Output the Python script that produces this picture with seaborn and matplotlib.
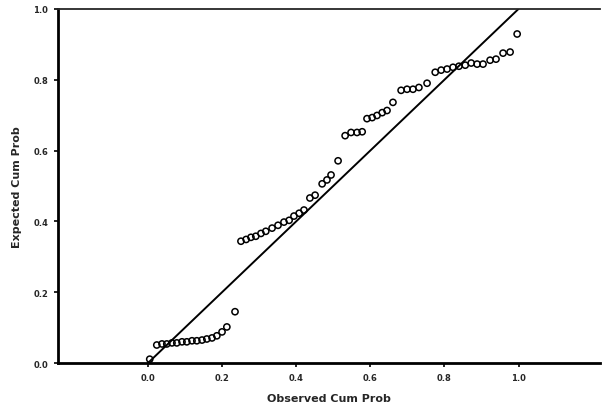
"""
P-P plot: observed vs expected cumulative probability
"""
import matplotlib
matplotlib.use("Agg")
import matplotlib.pyplot as plt
import seaborn as sns
import pandas as pd

# values
observed = [0.005, 0.024, 0.038, 0.051, 0.065, 0.078, 0.092, 0.105, 0.119, 0.132,
            0.146, 0.159, 0.173, 0.186, 0.200, 0.213, 0.235,
            0.251, 0.265, 0.278, 0.291, 0.305, 0.318, 0.335, 0.351, 0.367, 0.381,
            0.394, 0.408, 0.421, 0.437, 0.451, 0.470, 0.483, 0.494, 0.513,
            0.532, 0.548, 0.564, 0.578, 0.591, 0.605, 0.618, 0.632, 0.645, 0.661,
            0.683, 0.699, 0.715, 0.731, 0.753,
            0.775, 0.791, 0.807, 0.823, 0.839, 0.856, 0.872, 0.888, 0.904, 0.923,
            0.939, 0.958, 0.977, 0.996]
expected = [0.011, 0.051, 0.054, 0.054, 0.057, 0.057, 0.060, 0.060, 0.063, 0.063,
            0.065, 0.068, 0.071, 0.077, 0.088, 0.102, 0.145,
            0.344, 0.349, 0.355, 0.358, 0.366, 0.372, 0.381, 0.389, 0.398, 0.403,
            0.415, 0.423, 0.432, 0.466, 0.474, 0.506, 0.517, 0.531, 0.571,
            0.642, 0.651, 0.651, 0.653, 0.690, 0.693, 0.699, 0.707, 0.713, 0.736,
            0.770, 0.773, 0.773, 0.778, 0.790,
            0.821, 0.827, 0.830, 0.835, 0.838, 0.841, 0.847, 0.844, 0.844, 0.855,
            0.858, 0.875, 0.878, 0.929]
diag = [0.0, 1.0]
ticks = [0.0, 0.2, 0.4, 0.6, 0.8, 1.0]
tick_labels = ["0.0", "0.2", "0.4", "0.6", "0.8", "1.0"]

pts = pd.DataFrame({"obs": observed, "exp": expected})
line = pd.DataFrame({"x": diag, "y": diag})

sns.set_style("ticks")
plt.rcParams["font.family"] = ["DejaVu Sans"]

fig = plt.figure(figsize=(6.02, 4.10), dpi=100)
ax = fig.add_axes([0.096, 0.112, 0.901, 0.864])

sns.lineplot(data=line, x="x", y="y", color="black", linewidth=1.4, ax=ax)
sns.scatterplot(data=pts, x="obs", y="exp", marker="o", s=20,
                facecolor="none", edgecolor="black", linewidth=1.1, ax=ax)

ax.set_xlim(-0.243, 1.22)
ax.set_ylim(0.0, 1.0)
ax.set_xticks(ticks)
ax.set_xticklabels(tick_labels, fontsize=6, fontweight="bold")
ax.set_yticks(ticks)
ax.set_yticklabels(tick_labels, fontsize=6, fontweight="bold")
ax.tick_params(direction="out", length=3, width=1.2, color="black", pad=4)

for side in ["left", "bottom"]:
    ax.spines[side].set_linewidth(2.0)
    ax.spines[side].set_color("black")
ax.spines["top"].set_visible(True)
ax.spines["top"].set_linewidth(1.3)
ax.spines["right"].set_visible(False)

ax.set_xlabel("Observed Cum Prob", fontsize=8, fontweight="bold", labelpad=8)
ax.set_ylabel("Expected Cum Prob", fontsize=8, fontweight="bold", labelpad=8)

fig.savefig("out.png", dpi=100)
